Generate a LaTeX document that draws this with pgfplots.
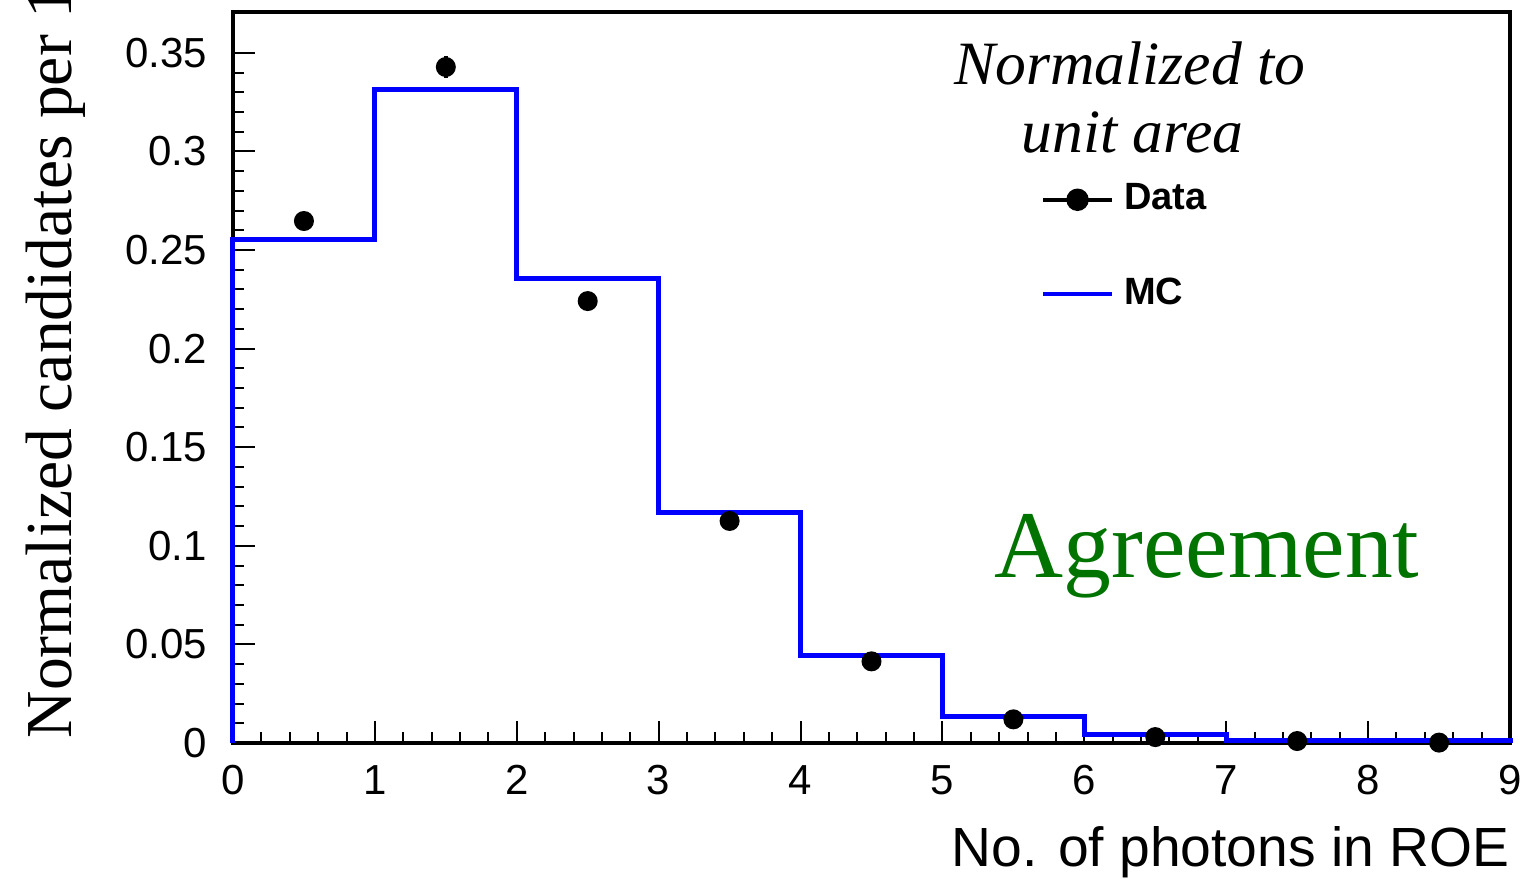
\documentclass[border=0pt]{standalone}
\usepackage{fontspec}
\setmainfont{Liberation Serif}
\setsansfont{Liberation Sans}
\usepackage{pgfplots}
\pgfplotsset{compat=1.18}
\definecolor{agree}{RGB}{0,115,0}
\begin{document}
\begin{tikzpicture}
\begin{axis}[
  at={(0,0)}, anchor=south west,
  scale only axis, width=319.25pt, height=182.75pt,
  xmin=0, xmax=9, ymin=0, ymax=0.3707,
  axis line style={line width=1pt},
  xtick={0,1,...,9}, minor x tick num=4,
  ytick={0,0.05,...,0.35}, minor y tick num=4,
  yticklabels={0,0.05,0.1,0.15,0.2,0.25,0.3,0.35},
  tick align=inside, xtick pos=bottom, ytick pos=left,
  major tick length=5.5pt, minor tick length=2.75pt,
  tick style={line width=0.5pt, black},
  /pgf/number format/assume math mode=true,
  ticklabel style={font=\sffamily\fontsize{10.5}{12}\selectfont},
  yticklabel style={xshift=-3pt},
  xticklabel style={yshift=-2pt},
  scaled y ticks=false,
  clip=false,
  legend style={draw=none, fill=none, at={(axis cs:5.69,0.2515)}, anchor=west,
    font=\sffamily\bfseries\fontsize{9.5}{11}\selectfont, row sep=11.5pt,
    inner sep=0pt, /tikz/every odd column/.append style={column sep=0.5pt}},
  legend cell align=left,
  legend image code/.code={\draw[mark repeat=2,mark phase=2,#1] plot coordinates {(0pt,0pt) (8.6pt,0pt) (17.25pt,0pt)};},
]
\addplot[const plot, blue, line width=1.25pt, forget plot] coordinates {
 (0,0) (0,0.2551) (1,0.3316) (2,0.2358) (3,0.1171) (4,0.0445) (5,0.0134) (6,0.0041) (7,0.0015) (8,0.0015) (9,0.0015) (9,0)};
\addplot[only marks, mark=*, mark size=2.3pt, black, forget plot,
  error bars/.cd, y dir=both, y explicit, error bar style={line width=1pt}, error mark=none]
  coordinates {
 (0.5,0.2647) +- (0,0.004)
 (1.5,0.3428) +- (0,0.0055)
 (2.5,0.2241) +- (0,0.004)
 (3.5,0.1126) +- (0,0.003)
 (4.5,0.0414) +- (0,0.002)
 (5.5,0.0120) +- (0,0.001)
 (6.5,0.0030) +- (0,0.0005)
 (7.5,0.0010) +- (0,0.0003)
 (8.5,0.0002) +- (0,0.0002)
};
\addlegendimage{black, line width=1pt, mark=*, mark size=2.3pt}
\addlegendentry{Data}
\addlegendimage{blue, line width=1pt}
\addlegendentry{MC}
\node[anchor=base, font=\itshape\fontsize{15.4}{18}\selectfont] at (axis cs:6.32,0.3337) {Normalized to};
\node[anchor=base, font=\itshape\fontsize{15.4}{18}\selectfont] at (axis cs:6.34,0.2992) {unit area};
\node[anchor=base, text=agree, font=\fontsize{23.9}{28}\selectfont] at (axis cs:6.865,0.0837) {Agreement};
\node[anchor=base east, inner sep=0pt, yshift=-30.75pt, font=\sffamily\fontsize{13.8}{16}\selectfont] at (rel axis cs:1,0) {No. of photons in ROE};
\node[xshift=-40.25pt, yshift=1pt, rotate=90, anchor=base west, inner sep=0pt, font=\fontsize{16.4}{18}\selectfont] at (rel axis cs:0,0) {Normalized candidates per 1};
\end{axis}
\pgfresetboundingbox
\useasboundingbox (-58.25pt,-33.75pt) rectangle (321.75pt,185.75pt);
\end{tikzpicture}
\end{document}
